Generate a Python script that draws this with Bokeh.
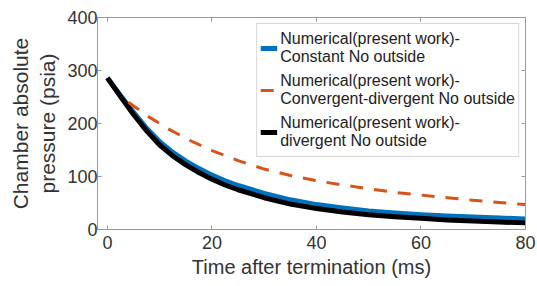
from bokeh.plotting import figure
from bokeh.models import Range1d, LinearAxis, FixedTicker, Legend, LegendItem
from bokeh.embed import file_html
from bokeh.resources import INLINE

# ---- data ----
t_const = [0, 2.5, 5, 7.5, 10, 12.5, 15, 17.5, 20, 22.5, 25, 30, 35, 40, 45, 50, 55, 60, 65, 70, 75, 80]
p_const = [286, 253, 221, 191, 165.5, 145.5, 129, 115, 102.5, 92, 83, 68, 56, 47, 40.5, 35, 31, 28, 25.5, 23.5, 21.5, 20]

t_cd = [4, 8, 12, 16, 20, 25, 30, 35, 40, 45, 50, 55, 60, 65, 70, 75, 80]
p_cd = [240, 212, 188, 167, 149, 130, 114, 102, 92, 84, 77, 70, 65, 60, 55, 51, 47]

t_div = [0, 2.5, 5, 7.5, 10, 12.5, 15, 17.5, 20, 22.5, 25, 30, 35, 40, 45, 50, 55, 60, 65, 70, 75, 80]
p_div = [286, 251, 217, 186, 159.5, 139, 122, 107.5, 95, 84, 75, 60, 48, 39.5, 33, 28, 24, 21, 18, 16, 14, 12.5]

x_ticks = [0, 20, 40, 60, 80]
y_ticks = [0, 100, 200, 300, 400]

labels = [
    "Numerical(present work)-\nConstant No outside",
    "Numerical(present work)-\nConvergent-divergent No outside",
    "Numerical(present work)-\ndivergent No outside",
]
colors = ["#0072BD", "#D95319", "#000000"]

FONT = "Liberation Sans"
AX = "#9a9a9a"
TXT = "#333333"

p = figure(width=537, height=286, output_backend="svg", toolbar_location=None,
           x_range=Range1d(-1.9, 80), y_range=Range1d(0, 400),
           min_border_left=97, min_border_right=12, min_border_top=17,
           min_border_bottom=57)
p.grid.visible = False
p.outline_line_color = AX
p.background_fill_color = "white"

r_const = p.line(t_const, p_const, line_color=colors[0], line_width=5, line_join="round")
r_div = p.line(t_div, p_div, line_color=colors[2], line_width=5, line_join="round")
r_cd = p.line(t_cd, p_cd, line_color=colors[1], line_width=3, line_dash="13 11")

xa = p.xaxis[0]
xa.ticker = FixedTicker(ticks=x_ticks)
ya = p.yaxis[0]
ya.ticker = FixedTicker(ticks=y_ticks)
top = LinearAxis(ticker=FixedTicker(ticks=x_ticks),
                 major_label_overrides={t: "" for t in x_ticks})
right = LinearAxis(ticker=FixedTicker(ticks=y_ticks),
                   major_label_overrides={t: "" for t in y_ticks})
p.add_layout(top, "above")
p.add_layout(right, "right")

for ax in (xa, ya, top, right):
    ax.major_tick_in = 4
    ax.major_tick_out = 0
    ax.minor_tick_line_color = None
    ax.axis_line_color = AX
    ax.major_tick_line_color = AX
    ax.major_label_text_font = FONT
    ax.major_label_text_color = TXT
    ax.major_label_text_font_size = "18px"
    ax.axis_label_text_font = FONT
    ax.axis_label_text_color = TXT
    ax.axis_label_text_font_style = "normal"
    ax.axis_label_text_font_size = "20px"

for ax in (top, right):
    ax.major_label_standoff = 0

xa.axis_label = "Time after termination (ms)"
xa.major_label_standoff = 6
xa.axis_label_standoff = 4
ya.axis_label = "Chamber absolute\npressure (psia)"
ya.axis_label_text_font_size = "21px"
ya.major_label_standoff = 0
ya.axis_label_standoff = 5

legend = Legend(items=[
    LegendItem(label=labels[0], renderers=[r_const]),
    LegendItem(label=labels[1], renderers=[r_cd]),
    LegendItem(label=labels[2], renderers=[r_div]),
], location="top_right")
legend.margin = 6
legend.padding = 3
legend.spacing = 0
legend.glyph_width = 17
legend.label_standoff = 3
legend.label_height = 42
legend.label_text_font = FONT
legend.label_text_font_size = "16px"
legend.label_text_color = "#222222"
legend.border_line_color = "#b0b0b0"
legend.background_fill_color = "white"
legend.background_fill_alpha = 1.0
p.add_layout(legend)

open("out.html", "w").write(file_html(p, INLINE))
